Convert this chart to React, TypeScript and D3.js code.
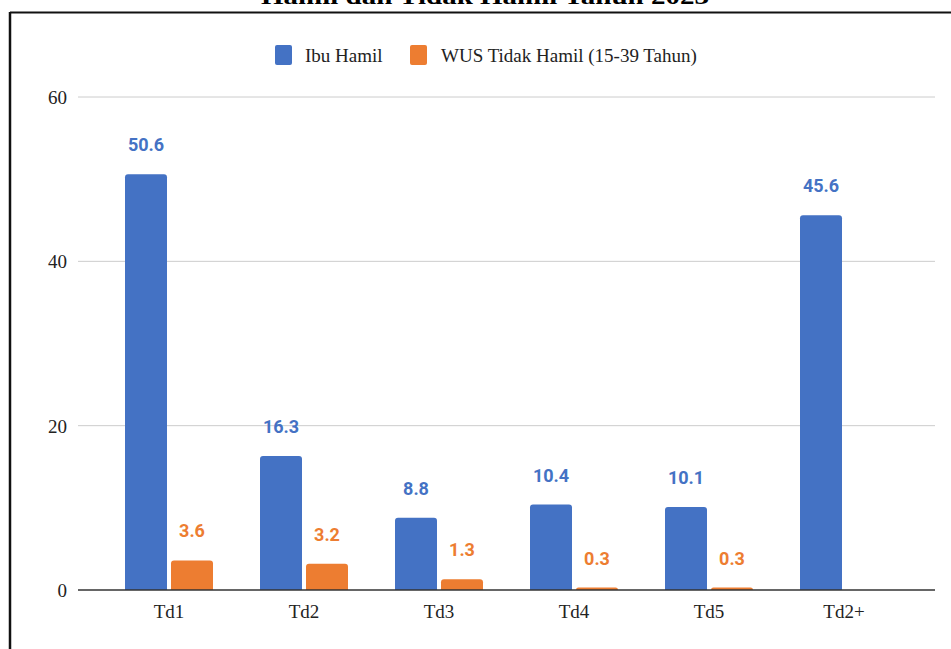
import React from "react";
import * as d3 from "d3";

const categories = ["Td1", "Td2", "Td3", "Td4", "Td5", "Td2+"];
const ibuHamil = [50.6, 16.3, 8.8, 10.4, 10.1, 45.6];
const wusTidakHamil: (number | null)[] = [3.6, 3.2, 1.3, 0.3, 0.3, null];
const yTicks = [0, 20, 40, 60];
const seriesNames = ["Ibu Hamil", "WUS Tidak Hamil (15-39 Tahun)"];
const titleText = "Hamil dan Tidak Hamil Tahun 2023";

const W = 951;
const H = 649;
const BLUE = "#4472C4";
const ORANGE = "#ED7D31";
const SERIF = "'Liberation Serif', 'Times New Roman', serif";
const SANS = "Roboto, 'Noto Sans', sans-serif";

// rect with rounded top corners only
function topRounded(x: number, y: number, w: number, h: number, r: number) {
  if (h <= 0) return "";
  const rr = Math.min(r, h, w / 2);
  return `M${x},${y + h}V${y + rr}Q${x},${y} ${x + rr},${y}H${x + w - rr}Q${x + w},${y} ${x + w},${y + rr}V${y + h}Z`;
}

export default function App() {
  const x = d3.scaleBand<string>().domain(categories).range([101.5, 911.5]);
  const y = d3.scaleLinear().domain([0, 60]).range([590, 97]);
  const barW = 42;
  const gap = 4;
  const gridX0 = 78;
  const gridX1 = 935;

  const series = [
    { name: seriesNames[0], values: ibuHamil as (number | null)[], color: BLUE, offset: -gap / 2 - barW },
    { name: seriesNames[1], values: wusTidakHamil, color: ORANGE, offset: gap / 2 },
  ];

  return (
    <svg
      width={W}
      height={H}
      style={{ position: "absolute", left: 0, top: 0, background: "#fff" }}
    >
      <rect x={0} y={0} width={W} height={H} fill="#fff" />
      {/* title (second line, partly above the frame) */}
      <text
        x={485}
        y={4}
        textAnchor="middle"
        fontFamily={SERIF}
        fontWeight="bold"
        fontSize={23}
        textLength={448}
        lengthAdjust="spacingAndGlyphs"
        fill="#000"
      >
        {titleText}
      </text>
      {/* frame */}
      <line x1={10} x2={W} y1={12.5} y2={12.5} stroke="#111" strokeWidth={2} />
      <line x1={10} x2={10} y1={12} y2={H} stroke="#111" strokeWidth={2.5} />

      {/* legend */}
      <g fontFamily={SERIF} fontSize={19} fill="#222">
        <rect x={275} y={45} width={17} height={20} rx={2} fill={BLUE} />
        <text x={305} y={62}>{seriesNames[0]}</text>
        <rect x={410} y={45} width={17} height={20} rx={2} fill={ORANGE} />
        <text x={441} y={62}>{seriesNames[1]}</text>
      </g>

      {/* grid + y ticks */}
      {yTicks.map((t) => (
        <g key={t}>
          {t !== 0 && (
            <line x1={gridX0} x2={gridX1} y1={y(t)} y2={y(t)} stroke="#cccccc" strokeWidth={1} />
          )}
          <text
            x={67}
            y={y(t) + 7}
            textAnchor="end"
            fontFamily={SERIF}
            fontSize={19}
            fill="#222"
          >
            {t}
          </text>
        </g>
      ))}

      {/* bars */}
      {series.map((s) =>
        categories.map((c, i) => {
          const v = s.values[i];
          if (v == null) return null;
          const cx = (x(c) as number) + x.bandwidth() / 2;
          const bx = cx + s.offset;
          const by = y(v);
          return (
            <g key={s.name + c}>
              <path d={topRounded(bx, by, barW, y(0) - by, 3)} fill={s.color} />
              <text
                x={bx + barW / 2}
                y={by - 23}
                textAnchor="middle"
                fontFamily={SANS}
                fontWeight="bold"
                fontSize={18}
                fill={s.color}
              >
                {v.toFixed(1)}
              </text>
            </g>
          );
        })
      )}

      {/* baseline */}
      <line x1={gridX0} x2={gridX1} y1={y(0)} y2={y(0)} stroke="#333" strokeWidth={1.5} />

      {/* x labels */}
      {categories.map((c) => (
        <text
          key={c}
          x={(x(c) as number) + x.bandwidth() / 2}
          y={618}
          textAnchor="middle"
          fontFamily={SERIF}
          fontSize={19}
          fill="#222"
        >
          {c}
        </text>
      ))}
    </svg>
  );
}
